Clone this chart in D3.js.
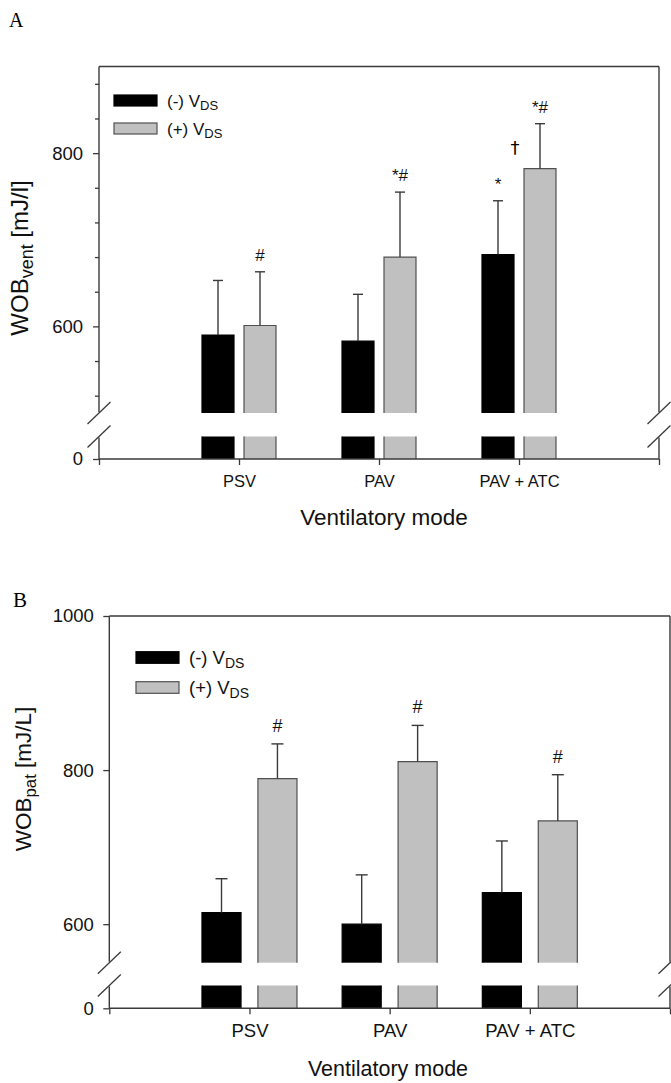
<!DOCTYPE html>
<html><head><meta charset="utf-8">
<script src="https://cdn.jsdelivr.net/npm/d3@7"></script>
<style>body{margin:0;background:#fff}svg{display:block;font-family:"Liberation Sans",Arial,sans-serif}</style>
</head><body><svg id="c" width="671" height="1083"></svg>
<script>
// ---------- data ----------
const categories = ["PSV", "PAV", "PAV + ATC"];
const seriesNames = ["(-) V", "(+) V"];
const seriesSub = "DS";
const xTitle = "Ventilatory mode";

// Panel A: WOBvent
const ventMinus   = [590, 583, 683];
const ventMinusSD = [63, 54, 62];
const ventPlus    = [601, 680, 782];
const ventPlusSD  = [62, 75, 52];
const ventMarksMinus = ["", "", "*"];
const ventMarksPlus  = ["#", "*#", "*#"];
const ventMarksPair  = ["", "", "†"];
const ventTicks   = [520, 560, 600, 640, 680, 720, 760, 800, 840, 880];
const ventTickLabels = [600, 800];

// Panel B: WOBpat
const patMinus   = [615, 600, 641];
const patMinusSD = [44, 64, 67];
const patPlus    = [789, 811, 734];
const patPlusSD  = [45, 47, 60];
const patMarksMinus = ["", "", ""];
const patMarksPlus  = ["#", "#", "#"];
const patMarksPair  = ["", "", ""];
const patTicks   = [600, 800, 1000];
const patTickLabels = [600, 800, 1000];

const svg = d3.select("#c");
const AX = "#3a3a3a";
const SANS = "'Liberation Sans',Arial,sans-serif";

function panel(o) {
  const g = svg.append("g");
  const x = d3.scaleLinear().domain([0, 4]).range([o.x0, o.x1]);
  const yU = d3.scaleLinear().domain(o.upper).range([o.yU, o.yTop]);
  const yL = d3.scaleLinear().domain([0, o.lowerMax]).range([o.y0, o.yL]);
  const inner = d3.scaleBand().domain([0, 1]).range([-o.half, o.half]).paddingInner(o.pad);
  const bw = inner.bandwidth();
  const fills = ["#000000", "#c0c0c0"];
  const strokes = ["#000000", "#505050"];
  const series = [
    {vals: o.minus, sd: o.minusSD, marks: o.marksMinus},
    {vals: o.plus, sd: o.plusSD, marks: o.marksPlus}
  ];

  // panel letter
  g.append("text").attr("x", o.letterX).attr("y", o.letterY)
    .style("font-family", "'Liberation Serif','Times New Roman',serif")
    .style("font-size", o.letterSize + "px").text(o.letter);

  // bars
  series.forEach((s, si) => {
    categories.forEach((c, i) => {
      const bx = x(i + 1) + inner(si);
      const v = s.vals[i];
      g.append("rect").attr("x", bx).attr("y", yU(v)).attr("width", bw)
        .attr("height", o.yU - yU(v)).attr("fill", fills[si]);
      g.append("path").attr("d", `M${bx},${o.yU}V${yU(v)}H${bx + bw}V${o.yU}`)
        .attr("fill", "none").attr("stroke", strokes[si]).attr("stroke-width", 1.2);
      g.append("rect").attr("x", bx).attr("y", yL(o.lowerMax)).attr("width", bw)
        .attr("height", o.y0 - yL(o.lowerMax)).attr("fill", fills[si]);
      g.append("path").attr("d", `M${bx},${o.y0}V${yL(o.lowerMax)}M${bx + bw},${o.y0}V${yL(o.lowerMax)}`)
        .attr("fill", "none").attr("stroke", strokes[si]).attr("stroke-width", 1.2);
      const cx = bx + bw / 2;
      const top = yU(v + s.sd[i]);
      g.append("line").attr("x1", cx).attr("x2", cx).attr("y1", yU(v)).attr("y2", top)
        .attr("stroke", AX).attr("stroke-width", 1.4);
      g.append("line").attr("x1", cx - o.cap).attr("x2", cx + o.cap).attr("y1", top).attr("y2", top)
        .attr("stroke", AX).attr("stroke-width", 1.4);
      if (s.marks[i]) {
        g.append("text").attr("x", cx).attr("y", top - o.markGap)
          .attr("text-anchor", "middle").style("font-size", o.markSize + "px")
          .attr("fill", "#111").text(s.marks[i]);
      }
    });
  });
  categories.forEach((c, i) => {
    if (o.marksPair[i]) {
      g.append("text").attr("x", x(i + 1) - 4).attr("y", yU(o.plus[i]) - 15)
        .attr("text-anchor", "middle").style("font-size", "18px")
        .style("font-family", "'DejaVu Sans',sans-serif").attr("fill", "#000")
        .text(o.marksPair[i]);
    }
  });

  // y axis (upper)
  const ayU = g.append("g").attr("transform", `translate(${o.x0},0)`)
    .call(d3.axisLeft(yU).tickValues(o.ticks).tickSize(6).tickPadding(o.tickPad)
      .tickFormat(d => o.tickLabels.includes(d) ? d : ""));
  ayU.select(".domain").remove();
  ayU.selectAll(".tick line").attr("stroke", AX).attr("stroke-width", 1.3)
    .attr("x2", d => o.tickLabels.includes(d) ? -6 : -4);
  ayU.selectAll(".tick text").style("font-size", "18.5px").attr("fill", "#111")
    .style("font-family", SANS);
  const ayL = g.append("g").attr("transform", `translate(${o.x0},0)`)
    .call(d3.axisLeft(yL).tickValues([0]).tickSize(6).tickPadding(o.tickPad));
  ayL.select(".domain").remove();
  ayL.selectAll(".tick line").attr("stroke", AX).attr("stroke-width", 1.3);
  ayL.selectAll(".tick text").style("font-size", "18.5px").attr("fill", "#111")
    .style("font-family", SANS);

  // x axis
  const ax = g.append("g").attr("transform", `translate(0,${o.y0})`)
    .call(d3.axisBottom(x).tickValues([0, 1, 2, 3, 4]).tickSize(6).tickPadding(o.xTickPad)
      .tickFormat(i => categories[i - 1] || ""));
  ax.select(".domain").attr("stroke", AX).attr("stroke-width", 1.4)
    .attr("d", `M${o.x0},0H${o.x1}`);
  ax.selectAll(".tick line").attr("stroke", AX).attr("stroke-width", 1.3);
  ax.selectAll(".tick text").style("font-size", o.xTickSize + "px").attr("fill", "#111")
    .style("font-family", SANS);

  // frame & broken vertical axes
  g.append("line").attr("x1", o.x0).attr("x2", o.x1).attr("y1", o.yTop).attr("y2", o.yTop)
    .attr("stroke", AX).attr("stroke-width", 1.4);
  [o.x0, o.x1].forEach(xx => {
    g.append("line").attr("x1", xx).attr("x2", xx).attr("y1", o.yTop).attr("y2", o.yU - 1)
      .attr("stroke", AX).attr("stroke-width", 1.4);
    g.append("line").attr("x1", xx).attr("x2", xx).attr("y1", o.yL + 1).attr("y2", o.y0)
      .attr("stroke", AX).attr("stroke-width", 1.4);
    [o.yU, o.yL].forEach(yy => {
      g.append("line").attr("x1", xx - 11.5).attr("x2", xx + 11.5)
        .attr("y1", yy + 11).attr("y2", yy - 11)
        .attr("stroke", AX).attr("stroke-width", 1.3);
    });
  });

  // legend
  seriesNames.forEach((nm, si) => {
    const ly = o.legY + si * o.legStep;
    g.append("rect").attr("x", o.legX).attr("y", ly).attr("width", o.legW).attr("height", o.legH)
      .attr("fill", fills[si]).attr("stroke", strokes[si]).attr("stroke-width", 1.2);
    const t = g.append("text").attr("x", o.legX + o.legW + 10).attr("y", ly + o.legH + 1)
      .style("font-size", o.legSize + "px").attr("fill", "#111");
    t.append("tspan").text(nm);
    t.append("tspan").attr("dy", o.legSubDy).style("font-size", o.legSubSize + "px").text(seriesSub);
  });

  // axis titles
  const yt = g.append("text").attr("transform", `translate(${o.yTitleX},${o.yTitleY}) rotate(-90)`)
    .attr("text-anchor", "middle").style("font-size", o.yTitleSize + "px").attr("fill", "#111");
  yt.append("tspan").text("WOB");
  yt.append("tspan").attr("dy", 5).style("font-size", (o.yTitleSize * 0.75) + "px").text(o.ySub);
  yt.append("tspan").attr("dy", -5).text(" " + o.yUnit);

  g.append("text").attr("x", o.xTitleX).attr("y", o.xTitleY)
    .attr("text-anchor", "middle").style("font-size", o.xTitleSize + "px").attr("fill", "#111")
    .text(xTitle);
}

panel({
  letter: "A", letterX: 9, letterY: 27, letterSize: 20,
  x0: 99, x1: 659, yTop: 66.5, yU: 413, yL: 436.5, y0: 459,
  upper: [500, 900], lowerMax: 20,
  half: 37, pad: 10 / 42, cap: 5,
  minus: ventMinus, minusSD: ventMinusSD, plus: ventPlus, plusSD: ventPlusSD,
  marksMinus: ventMarksMinus, marksPlus: ventMarksPlus, marksPair: ventMarksPair,
  markGap: 11, markSize: 17,
  ticks: ventTicks, tickLabels: ventTickLabels, tickPad: 10,
  xTickPad: 10, xTickSize: 16.5,
  legX: 114, legY: 95, legW: 43, legH: 11, legStep: 28, legSize: 17, legSubSize: 13, legSubDy: 2.5,
  yTitleX: 28, yTitleY: 258, yTitleSize: 24, ySub: "vent", yUnit: "[mJ/l]",
  xTitleX: 384, xTitleY: 525, xTitleSize: 22.5
});

panel({
  letter: "B", letterX: 13, letterY: 607, letterSize: 21,
  x0: 109.3, x1: 670, yTop: 616, yU: 962.7, yL: 985.5, y0: 1008.3,
  upper: [550, 1000], lowerMax: 20,
  half: 47.5, pad: 17 / 56.3, cap: 6,
  minus: patMinus, minusSD: patMinusSD, plus: patPlus, plusSD: patPlusSD,
  marksMinus: patMarksMinus, marksPlus: patMarksPlus, marksPair: patMarksPair,
  markGap: 12, markSize: 18,
  ticks: patTicks, tickLabels: patTickLabels, tickPad: 9.5,
  xTickPad: 10, xTickSize: 18.5,
  legX: 136, legY: 651.7, legW: 43, legH: 11.6, legStep: 30, legSize: 18.5, legSubSize: 14, legSubDy: 4,
  yTitleX: 31, yTitleY: 779, yTitleSize: 22.5, ySub: "pat", yUnit: "[mJ/L]",
  xTitleX: 388, xTitleY: 1076, xTitleSize: 21.5
});
</script></body></html>
